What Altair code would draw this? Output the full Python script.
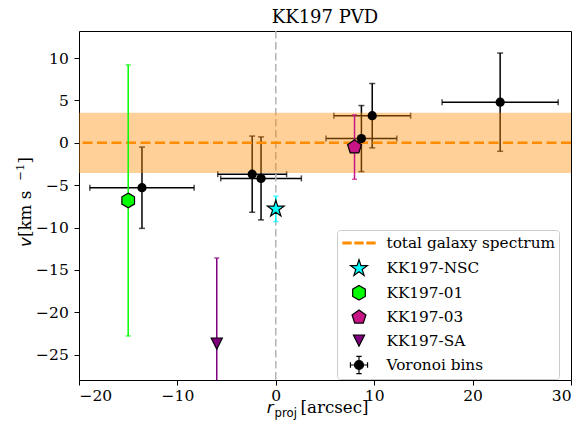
import math
import altair as alt
import pandas as pd

# ---------------- data ----------------
vor_r = [-13.6, -2.4, -1.5, 8.7, 9.8, 22.8]
vor_rerr = [5.3, 3.5, 4.1, 3.6, 3.9, 5.9]
vor_v = [-5.3, -3.7, -4.2, 0.5, 3.2, 4.8]
vor_verr = [4.8, 4.5, 4.9, 3.9, 3.8, 5.8]

obj_names = ["KK197-NSC", "KK197-01", "KK197-03", "KK197-SA"]
obj_r = [0.0, -15.0, 8.0, -6.0]
obj_v = [-7.8, -6.8, -0.5, -23.7]
obj_verr = [1.5, 16.0, 3.8, 10.1]
obj_colors = ["#00ffff", "#00ff00", "#c71585", "#800080"]

gal_v = 0.0
gal_verr = 3.55

x_domain = [-20, 30]
y_domain = [-28, 13.2]
x_ticks = [-20, -10, 0, 10, 20, 30]
y_ticks = [-25, -20, -15, -10, -5, 0, 5, 10]

GAL_LABEL = "total galaxy spectrum"
VOR_LABEL = "Voronoi bins"
legend_domain = [GAL_LABEL] + obj_names + [VOR_LABEL]

title_text = "KK197 PVD"
xlabel_parts = ["r", "proj", "[arcsec]"]
ylabel_parts = ["v", "\u00a0[km s", "−1", "]"]

# ---------------- marker geometry (unit space) ----------------
def poly(n, r, start=-90.0):
    pts = []
    for k in range(n):
        a = math.radians(start + 360.0 * k / n)
        pts.append((r * math.cos(a), r * math.sin(a)))
    return "M" + " L".join(f"{x:.3f},{y:.3f}" for x, y in pts) + " Z"

def star(r, ri):
    pts = []
    for k in range(10):
        a = math.radians(-90 + 36 * k)
        rr = r if k % 2 == 0 else ri
        pts.append((rr * math.cos(a), rr * math.sin(a)))
    return "M" + " L".join(f"{x:.3f},{y:.3f}" for x, y in pts) + " Z"

star_path = star(0.97, 0.97 * 0.382)
hex_path = poly(6, 0.81)
pent_path = poly(5, 0.81)
tri_path = "M-0.62,-0.62 L0.62,-0.62 L0,0.62 Z"
dash_path = " ".join(
    f"M{a:.2f},-0.11 L{b:.2f},-0.11 L{b:.2f},0.11 L{a:.2f},0.11 Z"
    for a, b in [(-1.78, -0.88), (-0.45, 0.45), (0.88, 1.78)]
)
cr = 0.5
err_path = (
    f"M{cr},0 A{cr},{cr} 0 1,1 -{cr},0 A{cr},{cr} 0 1,1 {cr},0 Z "
    "M-0.95,0 L0.95,0 M0,-0.95 L0,0.95 "
    "M-0.95,-0.3 L-0.95,0.3 M0.95,-0.3 L0.95,0.3 "
    "M-0.3,-0.95 L0.3,-0.95 M-0.3,0.95 L0.3,0.95"
)

shape_range = [dash_path, star_path, hex_path, pent_path, tri_path, err_path]
fill_range = ["#ff8c00"] + obj_colors + ["black"]
stroke_range = ["#ff8c00", "black", "black", "black", "black", "black"]

# ---------------- tables ----------------
vor = pd.DataFrame({"r": vor_r, "rerr": vor_rerr, "v": vor_v, "verr": vor_verr})
vor["rlo"] = vor.r - vor.rerr
vor["rhi"] = vor.r + vor.rerr
vor["vlo"] = vor.v - vor.verr
vor["vhi"] = vor.v + vor.verr

obj = pd.DataFrame({"label": obj_names, "r": obj_r, "v": obj_v, "verr": obj_verr})
obj["vlo"] = obj.v - obj.verr
obj["vhi"] = obj.v + obj.verr

band = pd.DataFrame({"x0": [x_domain[0]], "x1": [x_domain[1]],
                     "lo": [gal_v - gal_verr], "hi": [gal_v + gal_verr], "v": [gal_v]})

W, H = 492, 349
SERIF = "DejaVu Serif"
MATH = "DejaVu Sans"
TICK_FS = 15.5
LAB_FS = 16.7
SUB_FS = 11.7

xs = alt.Scale(domain=x_domain, nice=False, zero=False)
ys = alt.Scale(domain=y_domain, nice=False, zero=False)

x_axis = alt.Axis(values=x_ticks, title=None, labelFont=SERIF, labelFontSize=TICK_FS,
                  labelColor="black", domain=False, tickColor="black", tickSize=5,
                  grid=False, labelPadding=3)
y_axis = alt.Axis(values=y_ticks, title=None, labelFont=SERIF, labelFontSize=TICK_FS,
                  labelColor="black", domain=False, tickColor="black", tickSize=5,
                  grid=False, labelPadding=5.7)


def xe(field):
    return alt.X(field, scale=xs, axis=x_axis, title=None)


def ye(field):
    return alt.Y(field, scale=ys, axis=y_axis, title=None)


base_vor = alt.Chart(vor)
cap = {"size": 6, "thickness": 1.5}

vor_vbar = base_vor.mark_errorbar(ticks=cap, thickness=1.5, color="black", clip=True).encode(
    x=xe("r:Q"), y=ye("vlo:Q"), y2="vhi:Q")
vor_hbar = base_vor.mark_errorbar(ticks=cap, thickness=1.5, color="black", clip=True).encode(
    y=ye("v:Q"), x=xe("rlo:Q"), x2="rhi:Q")

band_rect = alt.Chart(band).mark_rect(color="#ff8c00", opacity=0.4).encode(
    x=xe("x0:Q"), x2="x1:Q", y=ye("lo:Q"), y2="hi:Q")
band_line = alt.Chart(band).mark_rule(color="#ff8c00", strokeWidth=2.5,
                                      strokeDash=[10, 4.5]).encode(y=ye("v:Q"))
zero_line = alt.Chart(pd.DataFrame({"r": [0.0]})).mark_rule(
    color="#b3b3b3", strokeWidth=1.5, strokeDash=[7.5, 3.5]).encode(x=xe("r:Q"))

obj_bar = alt.Chart(obj).mark_errorbar(ticks={"size": 5, "thickness": 1.5}, thickness=1.5,
                                       clip=True).encode(
    x=xe("r:Q"), y=ye("vlo:Q"), y2="vhi:Q",
    color=alt.Color("label:N", scale=alt.Scale(domain=obj_names, range=obj_colors),
                    legend=None))

vor_pts = base_vor.mark_point(filled=True, shape="circle", size=86, color="black",
                              opacity=1, clip=True).encode(x=xe("r:Q"), y=ye("v:Q"))

leg = alt.Legend(title=None, orient="none", legendX=258, legendY=199,
                 padding=3, symbolOffset=9, labelOffset=17.5, rowPadding=4.4,
                 symbolSize=324, symbolStrokeWidth=1.2, labelLimit=400,
                 labelFont=SERIF, labelFontSize=15.3, labelColor="black",
                 labelExpr="datum.label == 'total galaxy spectrum' ? datum.label + '\u00a0\u00a0' : datum.label",
                 fillColor="white", strokeColor="#cccccc", cornerRadius=3)

obj_pts = alt.Chart(obj).mark_point(filled=True, size=324, opacity=1, strokeWidth=1.2,
                                    clip=True).encode(
    x=xe("r:Q"), y=ye("v:Q"),
    fill=alt.Fill("label:N", scale=alt.Scale(domain=legend_domain, range=fill_range),
                  legend=leg),
    stroke=alt.Stroke("label:N", scale=alt.Scale(domain=legend_domain, range=stroke_range),
                      legend=leg),
    shape=alt.Shape("label:N", scale=alt.Scale(domain=legend_domain, range=shape_range),
                    legend=leg),
)


def label_piece(text, font, size, x, y, italic=False, angle=0):
    kw = dict(align="left", baseline="alphabetic", font=font, fontSize=size, color="black")
    if italic:
        kw["fontStyle"] = "italic"
    if angle:
        kw["angle"] = angle
    return alt.Chart(pd.DataFrame({"t": [text]})).mark_text(**kw).encode(
        text="t:N", x=alt.value(x), y=alt.value(y))


# x-axis title: r_proj [arcsec]
xt = [
    label_piece(xlabel_parts[0], MATH, LAB_FS, 187.7, 382.3, italic=True),
    label_piece(xlabel_parts[1], MATH, SUB_FS, 195.6, 386),
    label_piece(xlabel_parts[2], SERIF, LAB_FS, 221.5, 382.3),
]
# y-axis title: v [km s^-1]
yt = [
    label_piece(ylabel_parts[0], MATH, LAB_FS, -48, 216, italic=True, angle=270),
    label_piece(ylabel_parts[1], SERIF, LAB_FS, -48, 206.1, angle=270),
    label_piece(ylabel_parts[2], SERIF, SUB_FS, -55, 149.7, angle=270),
    label_piece(ylabel_parts[3], SERIF, LAB_FS, -48, 132.5, angle=270),
]

chart = alt.layer(
    vor_vbar, vor_hbar, zero_line, band_rect, band_line, obj_bar, vor_pts, obj_pts,
    *xt, *yt,
).properties(
    width=W, height=H,
    title=alt.Title(title_text, font=SERIF, fontSize=18, fontWeight="normal",
                    color="black", offset=3),
    autosize=alt.AutoSizeParams(type="none"),
    padding={"left": 71, "top": 23, "right": 5, "bottom": 40},
).configure_view(
    stroke="black", strokeWidth=1
)

chart.save("out.html", embed_options={"renderer": "svg", "actions": False})
